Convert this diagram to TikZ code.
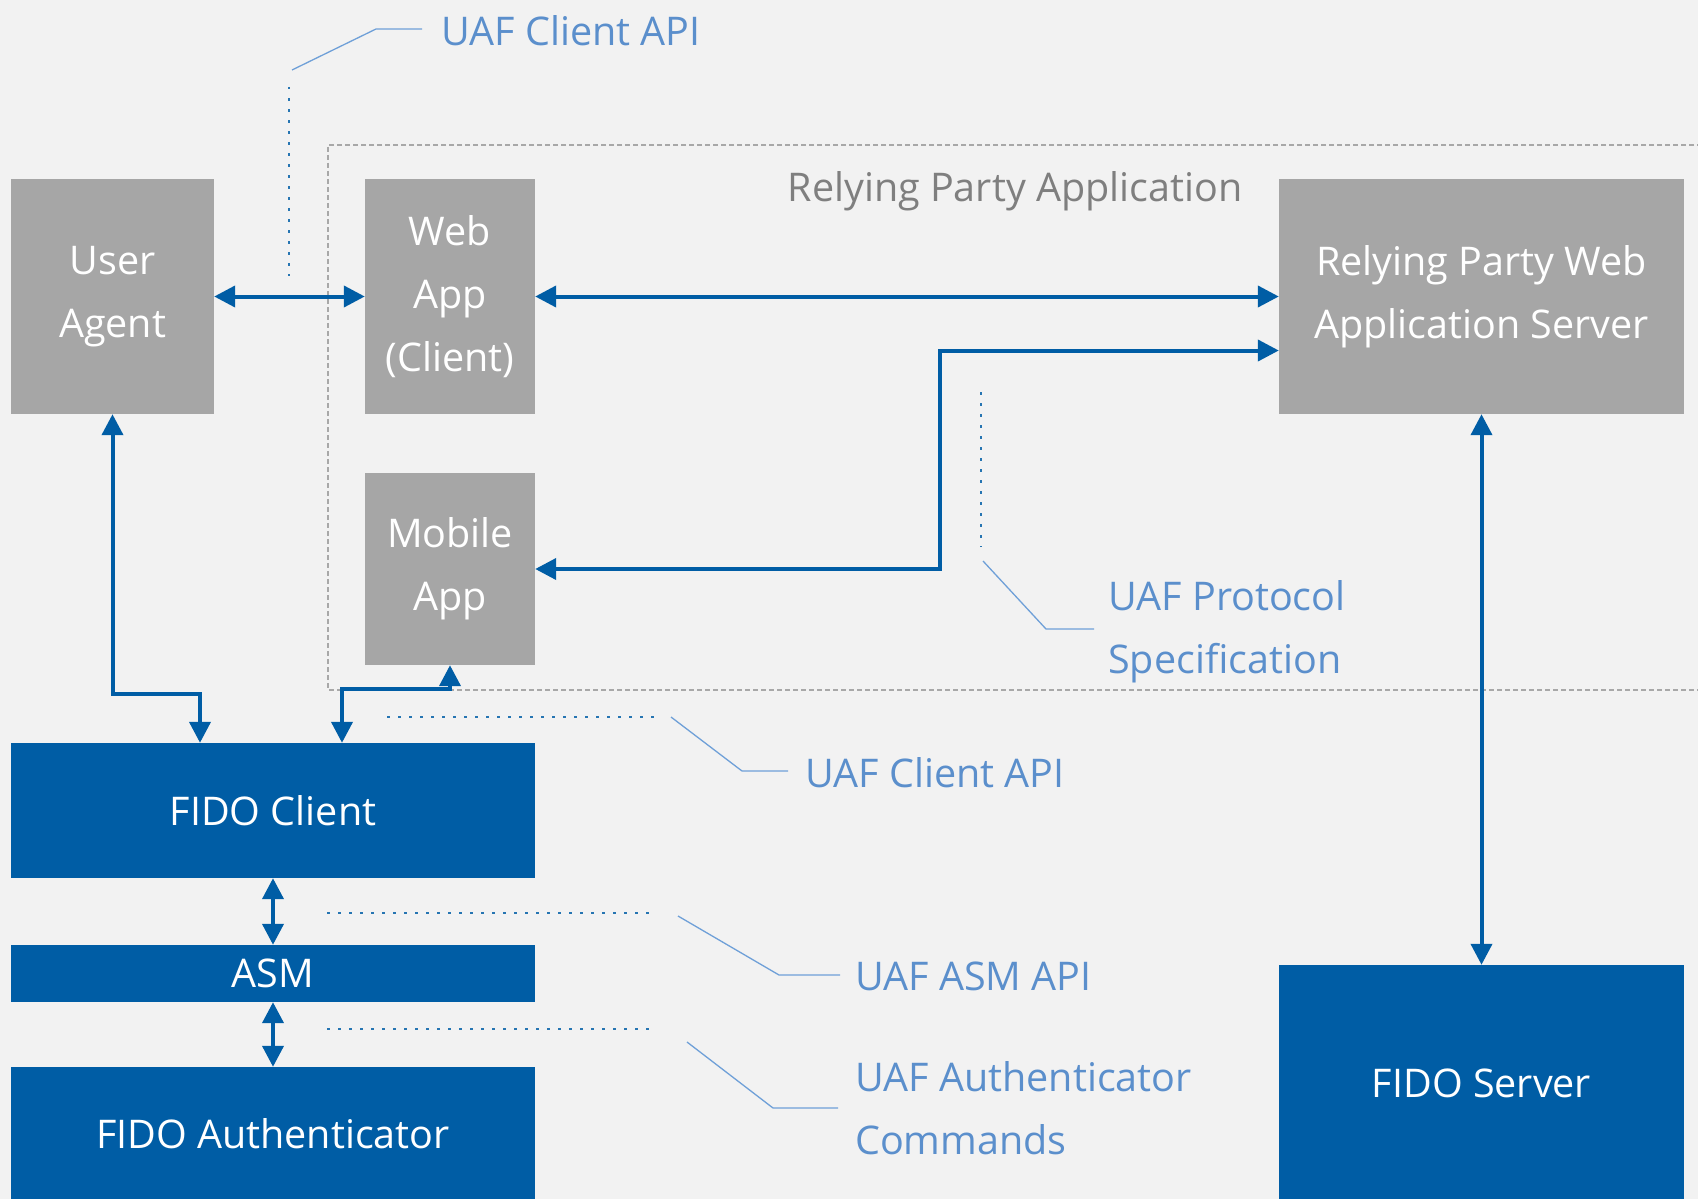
\documentclass[tikz,border=0pt]{standalone}
\usepackage{fontspec}
\setmainfont{Open Sans}
\usetikzlibrary{arrows.meta,calc}
\definecolor{bgc}{HTML}{F2F2F2}
\definecolor{boxgray}{HTML}{A6A6A6}
\definecolor{fidoblue}{HTML}{005DA5}
\definecolor{notecol}{HTML}{5B8FCC}
\definecolor{noteline}{HTML}{6FA0D8}
\definecolor{framegray}{HTML}{A8A8A8}
\definecolor{titlegray}{HTML}{7F7F7F}
\tikzset{
  graybox/.style={rectangle, fill=boxgray, draw=none, text=white, align=center,
    inner sep=0pt, font=\fontsize{39.5}{63}\selectfont},
  bluebox/.style={rectangle, fill=fidoblue, draw=none, text=white, align=center,
    inner sep=0pt, font=\fontsize{39.5}{63}\selectfont},
  conn/.style={draw=fidoblue, line width=4pt,
    {Triangle[length=21pt,width=21pt]}-{Triangle[length=21pt,width=21pt]}},
  notetext/.style={anchor=west, text=notecol, align=left, inner sep=0pt,
    font=\fontsize{39.5}{63}\selectfont},
  leader/.style={draw=noteline, line width=1.3pt},
  dotline/.style={draw=fidoblue!85!white, line width=2.2pt, dash pattern=on 2.5pt off 8.5pt},
  frame/.style={draw=framegray, line width=1.3pt, dash pattern=on 5pt off 3pt}
}
\begin{document}
\begin{tikzpicture}[x=1pt,y=-1pt]
  % canvas
  \fill[bgc] (0,0) rectangle (1698,1199);
  \useasboundingbox (0,0) rectangle (1698,1199);

  % relying party application frame
  \draw[frame] (1710,145) -- (328,145) -- (328,690) -- (1710,690);
  \node[text=titlegray, font=\fontsize{39.5}{44}\selectfont, inner sep=0pt]
    (rpatitle) at (1015,191) {Relying Party Application};

  % components
  \node[graybox, minimum width=203pt, minimum height=235pt] (ua) at (112.5,296.5) {User\\Agent};
  \node[graybox, minimum width=170pt, minimum height=235pt] (web) at (450,296.5) {Web\\App\\(Client)};
  \node[graybox, minimum width=170pt, minimum height=192pt] (mobile) at (450,569) {Mobile\\App};
  \node[graybox, minimum width=405pt, minimum height=235pt] (rp) at (1481.5,296.5) {Relying Party Web\\Application Server};
  \node[bluebox, minimum width=524pt, minimum height=135pt] (fc) at (273,810.5) {FIDO Client};
  \node[bluebox, minimum width=524pt, minimum height=57pt] (asm) at (273,973.5) {ASM};
  \node[bluebox, minimum width=524pt, minimum height=134pt] (auth) at (273,1134) {FIDO Authenticator};
  \node[bluebox, minimum width=405pt, minimum height=236pt] (fs) at (1481.5,1083) {FIDO Server};

  % connections
  \draw[conn] (ua.east) -- (web.west);
  \draw[conn] (web.east) -- (rp.west);
  \draw[conn] (mobile.east) -- ++(405,0) |- ([yshift=-54pt]rp.west);
  \draw[conn] (ua.south) -- ++(0,280) -| ([xshift=-73pt]fc.north);
  \draw[conn] (mobile.south) -- ++(0,24) -| ([xshift=69pt]fc.north);
  \draw[conn] (fc.south) -- (asm.north);
  \draw[conn] (asm.south) -- (auth.north);
  \draw[conn] (rp.south) -- (fs.north);

  % interface annotations
  % UAF Client API (user agent side)
  \coordinate (d1a) at (289,87);
  \coordinate (d1b) at (289,276);
  \coordinate (l1a) at (292,70);
  \coordinate (l1b) at (376,29);
  \coordinate (l1c) at (422,29);
  \draw[dotline] (d1a) -- (d1b);
  \draw[leader] (l1a) -- (l1b) -- (l1c);
  \node[notetext] (n1) at (441,31) {UAF Client API};

  % UAF Protocol Specification
  \coordinate (d2a) at (981,392);
  \coordinate (d2b) at (981,547);
  \coordinate (l2a) at (983,561);
  \coordinate (l2b) at (1046,629);
  \coordinate (l2c) at (1094,629);
  \draw[dotline] (d2a) -- (d2b);
  \draw[leader] (l2a) -- (l2b) -- (l2c);
  \node[notetext] (n2) at (1108,632) {UAF Protocol\\Specification};

  % UAF Client API (FIDO client side)
  \coordinate (d3a) at (387,717);
  \coordinate (d3b) at (657,717);
  \coordinate (l3a) at (671,717);
  \coordinate (l3b) at (742,771);
  \coordinate (l3c) at (788,771);
  \draw[dotline] (d3a) -- (d3b);
  \draw[leader] (l3a) -- (l3b) -- (l3c);
  \node[notetext] (n3) at (805,773) {UAF Client API};

  % UAF ASM API
  \coordinate (d4a) at (327,913);
  \coordinate (d4b) at (654,913);
  \coordinate (l4a) at (678,916);
  \coordinate (l4b) at (779,975);
  \coordinate (l4c) at (840,975);
  \draw[dotline] (d4a) -- (d4b);
  \draw[leader] (l4a) -- (l4b) -- (l4c);
  \node[notetext] (n4) at (855,976) {UAF ASM API};

  % UAF Authenticator Commands
  \coordinate (d5a) at (327,1029);
  \coordinate (d5b) at (654,1029);
  \coordinate (l5a) at (687,1042);
  \coordinate (l5b) at (773,1108);
  \coordinate (l5c) at (838,1108);
  \draw[dotline] (d5a) -- (d5b);
  \draw[leader] (l5a) -- (l5b) -- (l5c);
  \node[notetext] (n5) at (855,1108) {UAF Authenticator\\Commands};
\end{tikzpicture}
\end{document}
